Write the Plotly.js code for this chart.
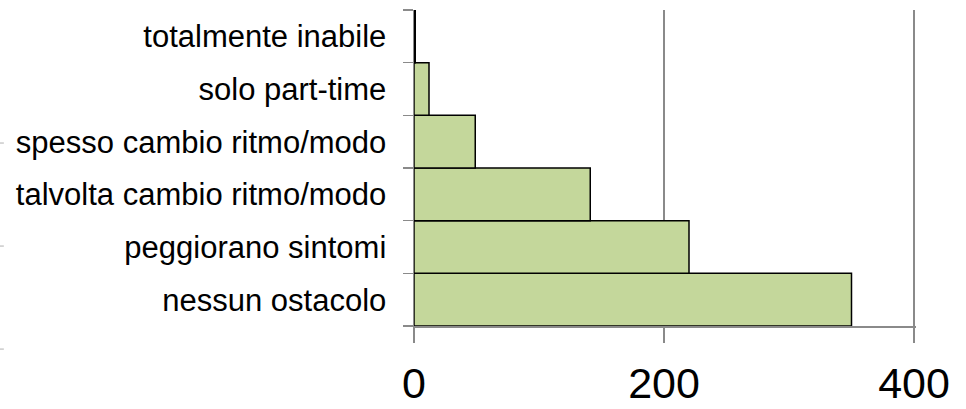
<!DOCTYPE html>
<html>
<head>
<meta charset="utf-8">
<script src="https://cdn.plot.ly/plotly-3.0.1.min.js"></script>
<style>
html,body{margin:0;padding:0;background:#fff;}
#chart{width:966px;height:409px;}
</style>
</head>
<body>
<div id="chart"></div>
<script>
// Data (bottom to top)
const categories = ["nessun ostacolo", "peggiorano sintomi", "talvolta cambio ritmo/modo", "spesso cambio ritmo/modo", "solo part-time", "totalmente inabile"];
const values = [350, 220, 141, 49, 12, 1];
const xTickValues = [0, 200, 400];
const xTickLabels = ["0", "200", "400"];

const trace = {
  type: "bar",
  orientation: "h",
  x: values,
  y: categories,
  marker: {color: "#c4d79b", line: {color: "#000000", width: 1.5}},
  hoverinfo: "x+y"
};

const gray = "#8a8a8a";
const smallMarks = [0.579, 0.253, -0.073].map(function(yy){
  return {type: "line", xref: "paper", yref: "paper", x0: -0.825, x1: -0.817, y0: yy, y1: yy,
          line: {color: "#b0b0b0", width: 1}};
});

const layout = {
  width: 966,
  height: 409,
  margin: {l: 414, r: 50, t: 10, b: 83, pad: 0},
  paper_bgcolor: "#ffffff",
  plot_bgcolor: "#ffffff",
  showlegend: false,
  bargap: 0,
  font: {family: "Liberation Sans, Arial, sans-serif", color: "#000000"},
  xaxis: {
    range: [0, 401.6],
    tickvals: xTickValues,
    ticktext: xTickLabels,
    showgrid: true,
    gridcolor: gray,
    gridwidth: 1.5,
    zeroline: false,
    showline: true,
    linecolor: gray,
    linewidth: 1.5,
    ticks: "outside",
    ticklen: 15,
    tickcolor: gray,
    tickwidth: 1.5,
    ticklabelstandoff: 4,
    tickfont: {size: 43, color: "#000000", family: "Liberation Sans, Arial, sans-serif"},
    fixedrange: true
  },
  yaxis: {
    type: "category",
    categoryorder: "array",
    categoryarray: categories,
    tickson: "boundaries",
    showgrid: false,
    zeroline: false,
    showline: true,
    linecolor: gray,
    linewidth: 1.5,
    ticks: "outside",
    ticklen: 10,
    tickcolor: gray,
    tickwidth: 1.5,
    ticklabelstandoff: 20,
    tickfont: {size: 31, color: "#000000", family: "Liberation Sans, Arial, sans-serif"},
    fixedrange: true
  },
  shapes: smallMarks
};

Plotly.newPlot("chart", [trace], layout, {displayModeBar: false, staticPlot: true});
</script>
</body>
</html>
